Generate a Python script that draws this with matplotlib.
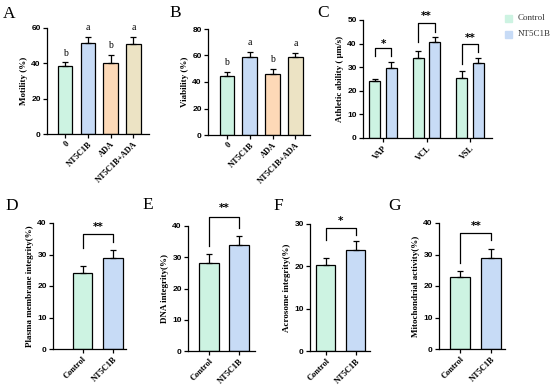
import numpy as np
import matplotlib.pyplot as plt

W, H = 550, 389

c_ctrl = '#cdf3e2'
c_nt = '#c7dbf6'
c_ada = '#fdd9b7'
c_both = '#ece3c4'

# panel A / B
groups4 = ['0', 'NT5C1B', 'ADA', 'NT5C1B+ADA']
motility = [38.6, 51.5, 40.0, 51.0]
motility_err = [2.2, 3.5, 5.0, 4.0]
motility_let = ['b', 'a', 'b', 'a']
viability = [44.5, 59.0, 46.0, 59.0]
viability_err = [3.0, 3.6, 4.0, 3.0]
viability_let = ['b', 'a', 'b', 'a']

# panel C
params_c = ['VAP', 'VCL', 'VSL']
athl_ctrl = [24.2, 33.9, 25.4]
athl_ctrl_err = [0.8, 3.0, 3.0]
athl_nt = [29.7, 40.7, 31.8]
athl_nt_err = [2.5, 2.1, 2.1]
athl_sig = ['*', '**', '**']

# panels D-G
groups2 = ['Control', 'NT5C1B']
plasma = [24.1, 28.9]
plasma_err = [2.2, 2.5]
dna = [28.2, 33.9]
dna_err = [2.8, 2.9]
acro = [20.3, 23.9]
acro_err = [1.7, 2.1]
mito = [22.9, 28.9]
mito_err = [1.9, 2.8]

serif = 'Liberation Serif'
sans = 'Liberation Sans'

fig = plt.figure(figsize=(W / 100, H / 100), dpi=100)


def px_axes(x0, ytop, x1, ybot):
    return fig.add_axes([x0 / W, 1 - ybot / H, (x1 - x0) / W, (ybot - ytop) / H])


def style(ax, ylim, step, xlim, ylabel):
    ax.set_ylim(*ylim)
    ax.set_xlim(*xlim)
    ax.set_yticks(np.arange(ylim[0], ylim[1] + 0.1, step))
    for s in ['top', 'right']:
        ax.spines[s].set_visible(False)
    for s in ['left', 'bottom']:
        ax.spines[s].set_linewidth(0.9)
    ax.tick_params(axis='both', length=3, width=0.9, pad=1.5)
    for t in ax.get_yticklabels():
        t.set_fontfamily(sans)
        t.set_fontweight('bold')
        t.set_fontsize(6)
    for t in ax.get_xticklabels():
        t.set_fontfamily(serif)
        t.set_fontweight('bold')
        t.set_fontsize(6)
        t.set_rotation(45)
        t.set_ha('right')
        t.set_rotation_mode('anchor')
    ax.set_ylabel(ylabel, fontfamily=serif, fontweight='bold', fontsize=6.5, labelpad=2)


def bars(ax, x, vals, errs, colors, width):
    ax.bar(x, vals, width, color=colors, edgecolor='black', linewidth=0.9, zorder=2)
    ax.errorbar(x, vals, yerr=[np.zeros(len(vals)), errs], fmt='none', ecolor='black',
                elinewidth=0.9, capsize=2.5, capthick=0.9, zorder=3)


def bracket(ax, x1, x2, top, l1, l2, label, star_y):
    ax.plot([x1, x1, x2, x2], [l1, top, top, l2], color='black', lw=0.9, clip_on=False)
    ax.text((x1 + x2) / 2, star_y, label, ha='center', va='center', fontsize=7.5,
            fontweight='bold', clip_on=False)


def panel_label(x, y, s):
    fig.text(x / W, 1 - y / H, s, fontfamily=serif, fontsize=12.5, va='baseline', ha='left')


# A
ax = px_axes(47, 28, 149, 134)
x = np.arange(4)
bars(ax, x, motility, motility_err, [c_ctrl, c_nt, c_ada, c_both], 0.64)
for xi, v, e, l in zip(x, motility, motility_err, motility_let):
    ax.text(xi, v + e + 2.5, l, ha='center', va='bottom', fontfamily=serif, fontsize=7)
ax.set_xticks(x, groups4)
style(ax, (0, 60), 20, (-0.79, 3.68), 'Motility (%)')

# B
ax = px_axes(208, 29, 310, 135)
bars(ax, x, viability, viability_err, [c_ctrl, c_nt, c_ada, c_both], 0.64)
for xi, v, e, l in zip(x, viability, viability_err, viability_let):
    ax.text(xi, v + e + 3.5, l, ha='center', va='bottom', fontfamily=serif, fontsize=7)
ax.set_xticks(x, groups4)
style(ax, (0, 80), 20, (-0.83, 3.64), 'Viability (%)')

# C
ax = px_axes(363, 20, 492, 138)
xc = np.arange(3)
off = 0.19
bw = 0.255
bars(ax, xc - off, athl_ctrl, athl_ctrl_err, c_ctrl, bw)
bars(ax, xc + off, athl_nt, athl_nt_err, c_nt, bw)
br_top = [38.0, 48.7, 40.0]
br_l = [34.8, 40.5, 31.5]
br_r = [34.8, 45.0, 36.5]
star_y = [40.0, 51.5, 42.5]
for i in range(3):
    bracket(ax, xc[i] - off, xc[i] + off, br_top[i], br_l[i], br_r[i], athl_sig[i], star_y[i])
ax.set_xticks(xc, params_c)
style(ax, (0, 50), 10, (-0.46, 2.5), 'Athletic ability ( \u03bcm/s)')

# legend
fig.patches.append(plt.Rectangle((505 / W, 1 - 22 / H), 7 / W, 7 / H, color=c_ctrl,
                                 transform=fig.transFigure))
fig.patches.append(plt.Rectangle((505 / W, 1 - 38 / H), 7 / W, 7 / H, color=c_nt,
                                 transform=fig.transFigure))
fig.text(518 / W, 1 - 18.5 / H, 'Control', fontfamily=serif, fontsize=6.5, va='center', color='#333333')
fig.text(518 / W, 1 - 34.5 / H, 'NT5C1B', fontfamily=serif, fontsize=6.5, va='center', color='#333333')

# D-G
x2 = np.arange(2)
specs = [
    ((53, 223, 126, 349), plasma, plasma_err, 40, (-0.97, 1.43), 'Plasma membrane integrity(%)',
     (36.5, 32.0, 34.0, 38.7), '**'),
    ((188, 226, 255, 351), dna, dna_err, 40, (-0.70, 1.53), 'DNA integrity(%)',
     (42.9, 33.5, 39.5, 45.8), '**'),
    ((310, 224, 370, 351), acro, acro_err, 30, (-0.53, 1.47), 'Acrosome integrity(%)',
     (29.0, 26.2, 27.4, 30.7), '*'),
    ((439, 223, 505, 349), mito, mito_err, 40, (-0.69, 1.44), 'Mitochondrial activity(%)',
     (36.8, 27.3, 34.6, 39.0), '**'),
]
for rect, vals, errs, ymax, xlim, ylab, br, sig in specs:
    ax = px_axes(*rect)
    bars(ax, x2, vals, errs, [c_ctrl, c_nt], 0.64)
    bracket(ax, 0, 1, br[0], br[1], br[2], sig, br[3])
    ax.set_xticks(x2, groups2)
    style(ax, (0, ymax), 10, xlim, ylab)

panel_label(3, 18, 'A')
panel_label(169, 17, 'B')
panel_label(317, 17, 'C')
panel_label(5, 210, 'D')
panel_label(142, 209, 'E')
panel_label(273, 210, 'F')
panel_label(388, 210, 'G')

fig.savefig('out.png', dpi=100)
